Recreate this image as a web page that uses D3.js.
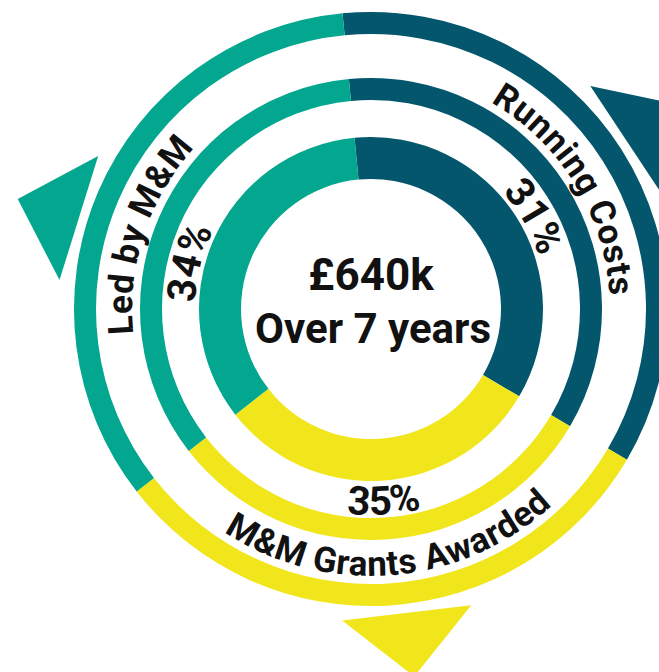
<!DOCTYPE html>
<html lang="en">
  <head>
    <meta charset="UTF-8" />
    <script src="https://d3js.org/d3.v7.min.js"></script>
    <title>£640k over 7 years</title>
    <style>
      body {
        margin: 0;
        background: #fff;
      }
      text {
        font-family: Roboto, 'Noto Sans', sans-serif;
        font-weight: 700;
        fill: #111;
      }
    </style>
  </head>
  <body>
    <script>
      // data
      var categories = ['Running Costs', 'M&M Grants Awarded', 'Led by M&M']
      var percentLabels = ['31%', '35%', '34%']
      // arc sizes as they are drawn in the source graphic
      var arcShares = [35, 31, 34]
      var colors = ['#03566b', '#f1e61b', '#03a68e']
      var totalLabel = '£640k'
      var periodLabel = 'Over 7 years'

      var width = 659
      var height = 672
      var cx = 371
      var cy = 309
      var rad = Math.PI / 180

      // three rings: thick inner donut, two thin rings
      var rings = [
        { inner: 130, outer: 172 },
        { inner: 209, outer: 231 },
        { inner: 275, outer: 297 }
      ]

      // small nudges (degrees) from slice middle, per category
      var pctNudge = [3, 0, -9]
      var nameNudge = [1, -1, -5]
      var arrowNudge = [-1, -3, -6]

      var svg = d3
        .select('body')
        .append('svg')
        .attr('width', width)
        .attr('height', height)

      var g = svg.append('g').attr('transform', 'translate(' + cx + ',' + cy + ')')

      var start = -5.5 * rad
      var pie = d3
        .pie()
        .sort(null)
        .value(function (d) {
          return d
        })
        .startAngle(start)
        .endAngle(start + 2 * Math.PI)

      var slices = pie(arcShares)

      rings.forEach(function (r, ri) {
        var arc = d3.arc().innerRadius(r.inner).outerRadius(r.outer)
        g.selectAll('path.ring' + ri)
          .data(slices)
          .enter()
          .append('path')
          .attr('class', 'ring' + ri)
          .attr('d', arc)
          .attr('fill', function (d, i) {
            return colors[i]
          })
      })

      // arrow heads sitting outside the outer ring
      var baseDist = 306
      var halfBase = 65
      var tipDist = 370
      var off = Math.atan(halfBase / baseDist)
      var cornerDist = Math.sqrt(baseDist * baseDist + halfBase * halfBase)

      g.selectAll('path.arrow')
        .data(slices)
        .enter()
        .append('path')
        .attr('class', 'arrow')
        .attr('d', function (d, i) {
          var a = (d.startAngle + d.endAngle) / 2 + arrowNudge[i] * rad
          var pts = [
            d3.pointRadial(a - off, cornerDist),
            d3.pointRadial(a, tipDist),
            d3.pointRadial(a + off, cornerDist)
          ]
          return d3.line()(pts) + 'Z'
        })
        .attr('fill', function (d, i) {
          return colors[i]
        })

      // arc path for text, centred on angle a; bottom labels run the other way
      function textArc(a, r) {
        var flip = Math.cos(a) < -0.5
        var a0 = flip ? a + Math.PI / 2 : a - Math.PI / 2
        var a1 = flip ? a - Math.PI / 2 : a + Math.PI / 2
        var p0 = d3.pointRadial(a0, r)
        var p1 = d3.pointRadial(a1, r)
        return 'M' + p0 + 'A' + r + ',' + r + ' 0 0,' + (flip ? 0 : 1) + ' ' + p1
      }

      function isBottom(a) {
        return Math.cos(a) < -0.5
      }

      var defs = svg.append('defs')

      slices.forEach(function (d, i) {
        var mid = (d.startAngle + d.endAngle) / 2

        var pa = mid + pctNudge[i] * rad
        defs
          .append('path')
          .attr('id', 'pct' + i)
          .attr('d', textArc(pa, isBottom(pa) ? 206 : 176))

        var na = mid + nameNudge[i] * rad
        defs
          .append('path')
          .attr('id', 'name' + i)
          .attr('d', textArc(na, isBottom(na) ? 267 : 239))
      })

      g.selectAll('text.pct')
        .data(percentLabels)
        .enter()
        .append('text')
        .attr('class', 'pct')
        .attr('font-size', 40)
        .append('textPath')
        .attr('href', function (d, i) {
          return '#pct' + i
        })
        .attr('startOffset', '50%')
        .attr('text-anchor', 'middle')
        .text(function (d) {
          return d
        })

      g.selectAll('text.name')
        .data(categories)
        .enter()
        .append('text')
        .attr('class', 'name')
        .attr('font-size', 35)
        .attr('letter-spacing', 0.6)
        .append('textPath')
        .attr('href', function (d, i) {
          return '#name' + i
        })
        .attr('startOffset', '50%')
        .attr('text-anchor', 'middle')
        .text(function (d) {
          return d
        })

      g.append('text')
        .attr('x', 0)
        .attr('y', -19)
        .attr('text-anchor', 'middle')
        .attr('font-size', 44)
        .text(totalLabel)

      g.append('text')
        .attr('x', 2)
        .attr('y', 34)
        .attr('text-anchor', 'middle')
        .attr('font-size', 42)
        .text(periodLabel)
    </script>
  </body>
</html>
